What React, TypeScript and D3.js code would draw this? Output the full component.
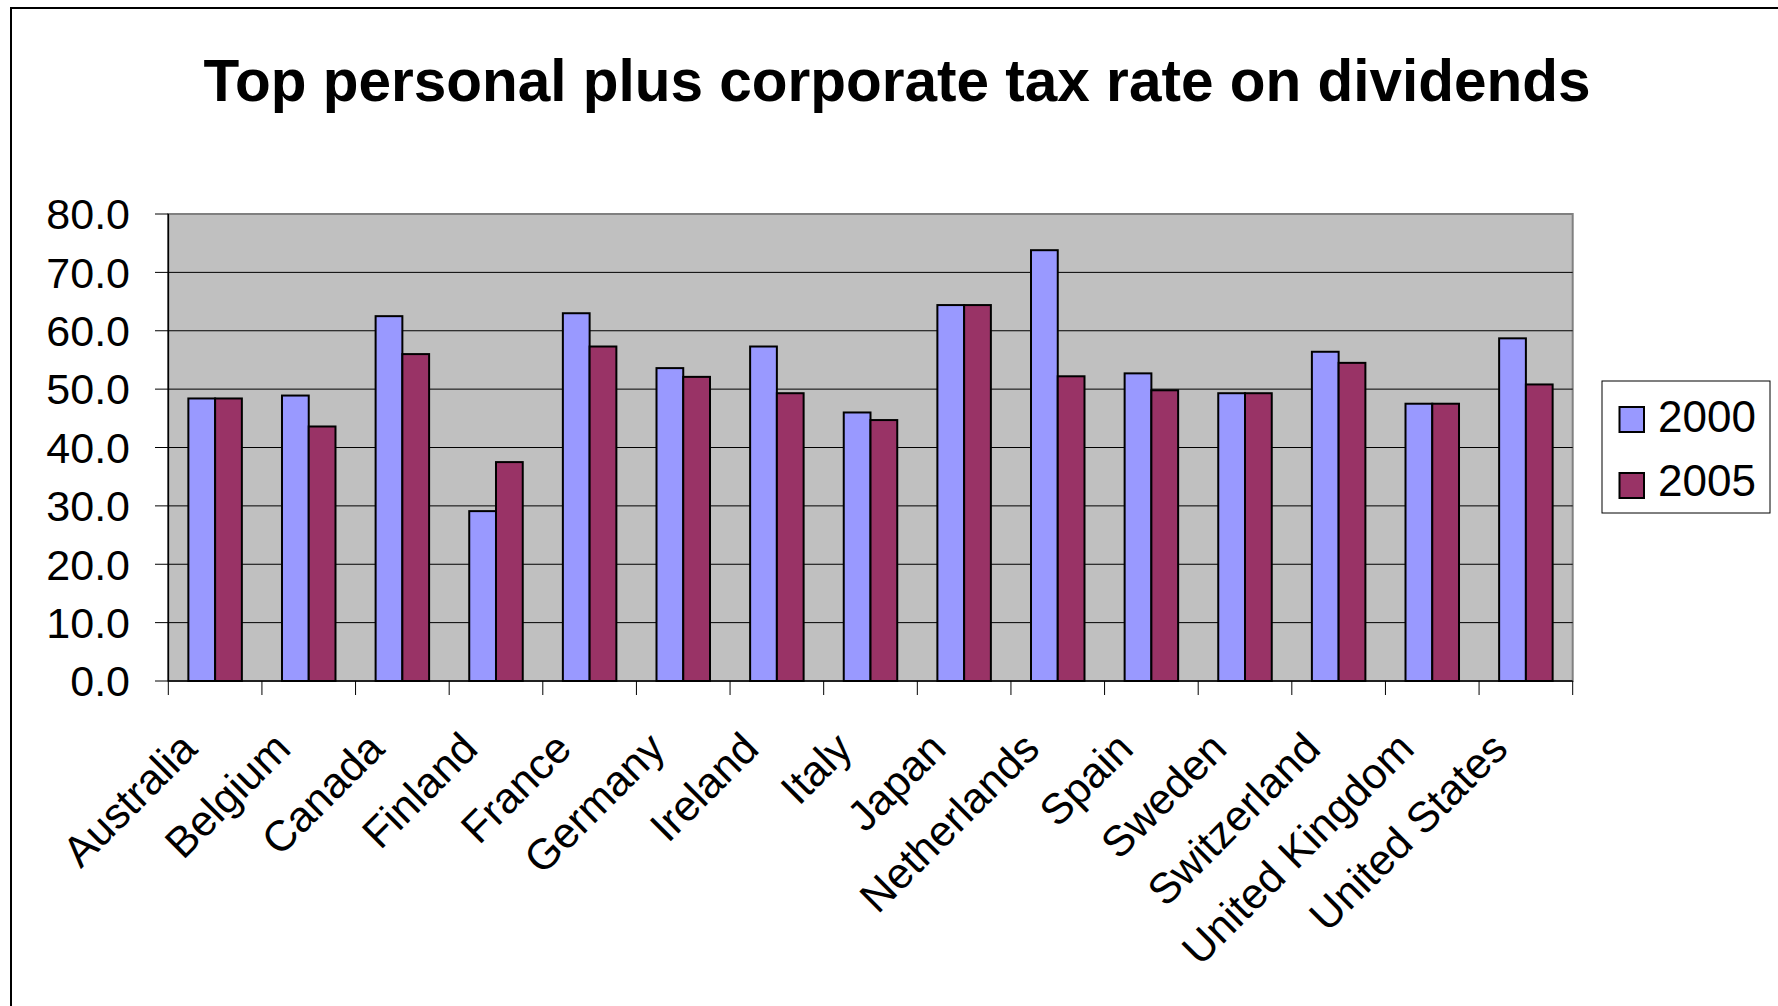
import React from "react";
import * as d3 from "d3";

const categories = [
  "Australia", "Belgium", "Canada", "Finland", "France", "Germany", "Ireland", "Italy",
  "Japan", "Netherlands", "Spain", "Sweden", "Switzerland", "United Kingdom", "United States",
];
const series2000 = [48.4, 48.9, 62.5, 29.1, 63.0, 53.6, 57.3, 46.0, 64.4, 73.8, 52.7, 49.3, 56.4, 47.5, 58.7];
const series2005 = [48.4, 43.6, 56.0, 37.5, 57.3, 52.1, 49.3, 44.7, 64.4, 52.2, 49.8, 49.3, 54.5, 47.5, 50.8];
const seriesNames = ["2000", "2005"];
const seriesColors = ["#9999FF", "#993366"];
const yTicks = [0, 10, 20, 30, 40, 50, 60, 70, 80];
const title = "Top personal plus corporate tax rate on dividends";

const W = 1778;
const H = 1006;
const plot = { left: 168.3, right: 1572.7, top: 214, bottom: 681 };
const FONT = "Liberation Sans, Arial, Helvetica, sans-serif";

export default function App() {
  const x = d3.scaleBand<string>().domain(categories).range([plot.left, plot.right]).padding(0);
  const y = d3.scaleLinear().domain([0, 80]).range([plot.bottom, plot.top]);
  const bw = x.bandwidth();
  const groupW = (bw * 2) / 3.5;
  const inner = d3.scaleBand<string>().domain(seriesNames).range([0, groupW]).padding(0);
  const data = [series2000, series2005];
  const boundaries = d3.range(categories.length + 1).map((i) => plot.left + i * bw);

  return (
    <svg width={W} height={H} style={{ position: "absolute", left: 0, top: 0, background: "#fff" }} fontFamily={FONT}>
      <rect x={11} y={8} width={W + 50} height={H + 50} fill="#fff" stroke="#000" strokeWidth={2} />
      <text x={897} y={100.5} textAnchor="middle" fontSize={58.5} fontWeight="bold" fill="#000">
        {title}
      </text>

      {/* plot area */}
      <rect x={plot.left} y={plot.top} width={plot.right - plot.left} height={plot.bottom - plot.top} fill="#C0C0C0" stroke="#808080" strokeWidth={2} />
      {yTicks.filter((t) => t > 0 && t < 80).map((t) => (
        <line key={"g" + t} x1={plot.left} x2={plot.right} y1={y(t)} y2={y(t)} stroke="#000" strokeWidth={1} />
      ))}

      {/* bars */}
      {categories.map((c, i) => {
        const gx = (x(c) as number) + (bw - groupW) / 2;
        return data.map((s, si) => (
          <rect
            key={c + si}
            x={gx + (inner(seriesNames[si]) as number)}
            y={y(s[i])}
            width={inner.bandwidth()}
            height={plot.bottom - y(s[i])}
            fill={seriesColors[si]}
            stroke="#000"
            strokeWidth={2}
          />
        ));
      })}

      {/* axes */}
      <line x1={plot.left} x2={plot.left} y1={plot.top} y2={plot.bottom} stroke="#000" strokeWidth={1.5} />
      <line x1={plot.left} x2={plot.right} y1={plot.bottom} y2={plot.bottom} stroke="#000" strokeWidth={1.5} />
      {yTicks.map((t) => (
        <g key={"y" + t}>
          <line x1={155} x2={plot.left} y1={y(t)} y2={y(t)} stroke="#000" strokeWidth={1} />
          <text x={130} y={y(t) + 15.3} textAnchor="end" fontSize={43} fill="#000">
            {t.toFixed(1)}
          </text>
        </g>
      ))}
      {boundaries.map((bx, i) => (
        <line key={"xt" + i} x1={bx} x2={bx} y1={plot.bottom} y2={plot.bottom + 14} stroke="#000" strokeWidth={1} />
      ))}
      {categories.map((c) => {
        const cx = (x(c) as number) + bw / 2 - 16;
        const cy = 751;
        return (
          <text key={"l" + c} x={cx} y={cy} textAnchor="end" fontSize={43} fill="#000" transform={`rotate(-45 ${cx} ${cy})`}>
            {c}
          </text>
        );
      })}

      {/* legend */}
      <rect x={1602} y={381} width={168} height={132} fill="#fff" stroke="#000" strokeWidth={1} />
      {seriesNames.map((n, i) => (
        <g key={"lg" + n}>
          <rect x={1619.5} y={407 + i * 66} width={24.5} height={25} fill={seriesColors[i]} stroke="#000" strokeWidth={2} />
          <text x={1658} y={431.5 + i * 64.5} fontSize={44} fill="#000">
            {n}
          </text>
        </g>
      ))}
    </svg>
  );
}
